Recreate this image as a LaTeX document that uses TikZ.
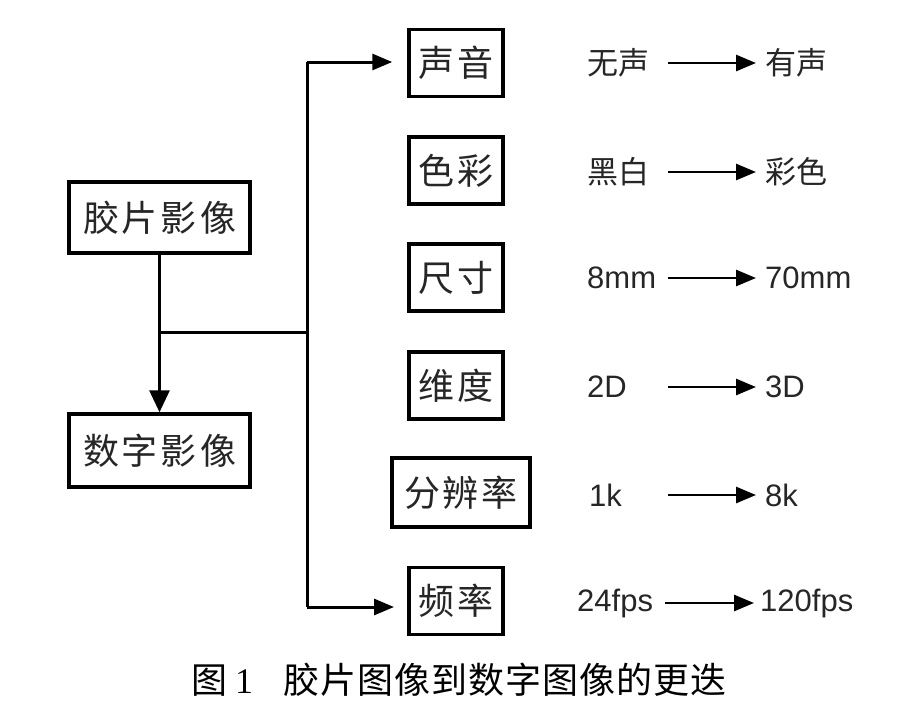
\documentclass[tikz,border=0pt]{standalone}
\usepackage{fontspec}
\setmainfont{Liberation Sans}
\newfontfamily\cjk{Noto Sans CJK SC}
\newfontfamily\capserif{Liberation Serif}
\usetikzlibrary{arrows.meta}
\newcommand{\gp}{\kern3pt}
\newcommand{\cg}{\kern1pt}
\begin{document}
\begin{tikzpicture}[x=1pt,y=-1pt,
  box/.style={draw=black, line width=3.5pt, fill=white, inner sep=0pt,
    minimum width=94pt, minimum height=67pt,
    font=\cjk\fontsize{36}{40}\selectfont, text=black!85},
  conn/.style={line width=3pt, draw=black},
  tipa/.style={-{Triangle[length=20pt,width=16pt]}},
  tipb/.style={-{Triangle[length=22pt,width=20pt]}},
  lbl/.style={inner sep=0pt, anchor=west, text=black!85, font=\fontsize{31}{36}\selectfont},
  captext/.style={inner sep=0pt, anchor=west, text=black, font=\cjk\fontsize{36}{42}\selectfont}]
\useasboundingbox (0,0) rectangle (913,724);

% left boxes
\node[box, minimum width=181pt, minimum height=71pt] (film) at (159.5,217.5) {胶\gp 片\gp 影\gp 像};
\node[box, minimum width=181pt, minimum height=73pt] (digital) at (159.5,450.5) {数\gp 字\gp 影\gp 像};

% right boxes
\node[box] (sound) at (456,63) {声\gp 音};
\node[box] (color) at (456,170.5) {色\gp 彩};
\node[box] (size)  at (456,277.5) {尺\gp 寸};
\node[box] (dim)   at (456,385.5) {维\gp 度};
\node[box, minimum width=138pt, minimum height=69pt] (res) at (461,492.5) {分\gp 辨\gp 率};
\node[box] (fps)   at (456,601) {频\gp 率};

% connectors
\coordinate (junc) at (159,332);
\coordinate (trunkmid) at (307,332);
\coordinate (trunktop) at (307,62);
\coordinate (trunkbot) at (307,607);
\coordinate (fpsin) at (409,607);

\draw[conn, tipb] (film.south) -- (digital.north);
\draw[conn] (junc) -- (trunkmid);
\draw[conn] (trunktop) -- (trunkbot);
\draw[conn, tipa, shorten >=15pt] (trunktop) -- (sound.west |- trunktop);
\draw[conn, tipa, shorten >=15pt] (trunkbot) -- (fpsin);

% right side labels
\node[lbl] (a1) at (587,63) {\cjk 无声};
\node[lbl] (b1) at (765,63) {\cjk 有声};
\node[lbl] (a2) at (587,172) {\cjk 黑白};
\node[lbl] (b2) at (765,172) {\cjk 彩色};
\node[lbl] (a3) at (587,278) {8mm};
\node[lbl] (b3) at (765,278) {70mm};
\node[lbl] (a4) at (587,387) {2D};
\node[lbl] (b4) at (765,387) {3D};
\node[lbl] (a5) at (589,495) {1k};
\node[lbl] (b5) at (765,495) {8k};
\node[lbl] (a6) at (577,603) {24fps};
\node[lbl] (b6) at (760,603) {120fps};

\coordinate (s1) at (668,63);
\coordinate (s2) at (668,172);
\coordinate (s3) at (668,278);
\coordinate (s4) at (668,387);
\coordinate (s5) at (668,495);
\coordinate (s6) at (665,603);
\foreach \i in {1,...,5}{
  \draw[conn, line width=2.8pt, tipa, shorten >=9pt] (s\i) -- (b\i.west |- s\i);
}
\draw[conn, line width=2.8pt, tipa, shorten >=6pt] (s6) -- (b6.west |- s6);

% caption
\node[captext] (caption) at (191,680) {图\kern8pt{\capserif 1}\kern30pt 胶\cg 片\cg 图\cg 像\cg 到\cg 数\cg 字\cg 图\cg 像\cg 的\cg 更\cg 迭};
\end{tikzpicture}
\end{document}
